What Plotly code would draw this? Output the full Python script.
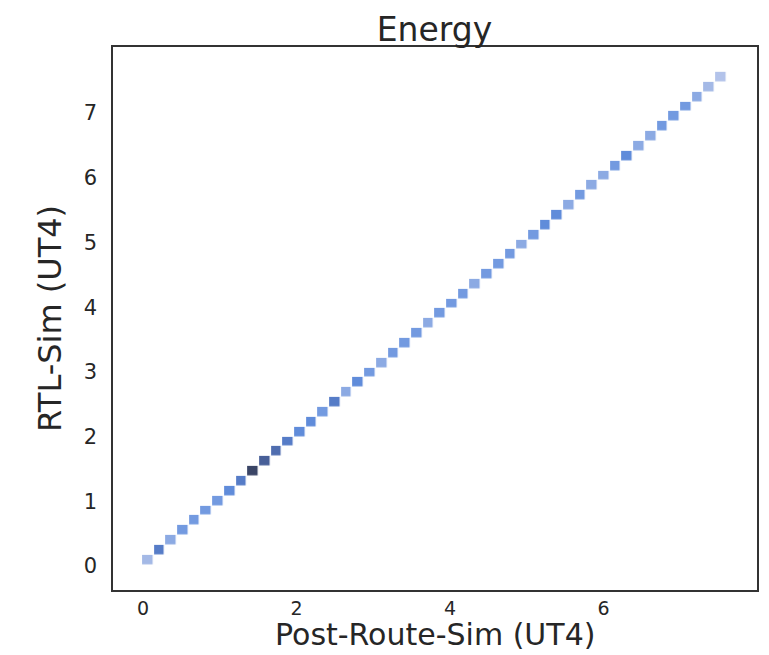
import plotly.graph_objects as go

# 2D histogram: diagonal bins (Post-Route-Sim vs RTL-Sim energy)
x_lo, x_hi = 0.065, 7.53          # centers of first/last occupied x bins
y_lo, y_hi = 0.10, 7.56           # centers of first/last occupied y bins
counts = [2, 6, 3, 4, 4, 4, 4, 5, 6, 10,
          8, 7, 6, 5, 5, 4, 6, 3, 5, 4,
          3, 4, 4, 4, 3, 4, 4, 4, 3, 4,
          4, 4, 3, 4, 5, 5, 3, 4, 3, 3,
          4, 5, 3, 3, 4, 4, 4, 3, 2, 1]
n = len(counts)
x_centers = [x_lo + (x_hi - x_lo) * i / (n - 1) for i in range(n)]
y_centers = [y_lo + (y_hi - y_lo) * i / (n - 1) for i in range(n)]

x_ticks = [0, 2, 4, 6]
y_ticks = [0, 1, 2, 3, 4, 5, 6, 7]

title_text = "Energy"
x_title = "Post-Route-Sim (UT4)"
y_title = "RTL-Sim (UT4)"

colorscale = [
    [0.0, "#b3c3ea"],
    [0.12, "#a3b8e6"],
    [0.25, "#86a6e2"],
    [0.35, "#6f97e0"],
    [0.48, "#5b88d8"],
    [0.6, "#5375bd"],
    [0.8, "#475c93"],
    [1.0, "#3a4566"],
]

fig = go.Figure(go.Heatmap(
    x=x_centers, y=y_centers, z=counts,
    colorscale=colorscale, showscale=False,
    xgap=1.5, ygap=0.5, hoverongaps=False,
))

font_family = "DejaVu Sans"
fig.update_layout(
    width=769, height=655,
    margin=dict(l=113, r=12, t=47, b=65),
    paper_bgcolor="white", plot_bgcolor="white",
    font=dict(family=font_family, color="#262626"),
    title=dict(text=title_text, x=0.565, xanchor="center", y=0.955, yanchor="middle",
               font=dict(size=33, color="#262626")),
    showlegend=False,
    annotations=[dict(
        text=x_title, xref="paper", yref="paper", x=0.5, y=-0.118,
        xanchor="center", yanchor="bottom", showarrow=False,
        font=dict(size=30, color="#262626"),
    )],
)
fig.update_xaxes(
    range=[-0.39, 8.0], tickvals=x_ticks, automargin=False,
    showgrid=False, zeroline=False,
    showline=True, mirror=True, linecolor="#333333", linewidth=1.5,
    ticks="", tickfont=dict(size=19, color="#262626"),
)
fig.update_yaxes(
    range=[-0.37, 8.02], tickvals=y_ticks, automargin=False,
    showgrid=False, zeroline=False,
    showline=True, mirror=True, linecolor="#333333", linewidth=1.5,
    ticks="outside", ticklen=10, tickcolor="rgba(0,0,0,0)",
    tickfont=dict(size=21, color="#262626"),
    title=dict(text=y_title, font=dict(size=32, color="#262626"), standoff=12),
)

fig.write_html("out.html")
